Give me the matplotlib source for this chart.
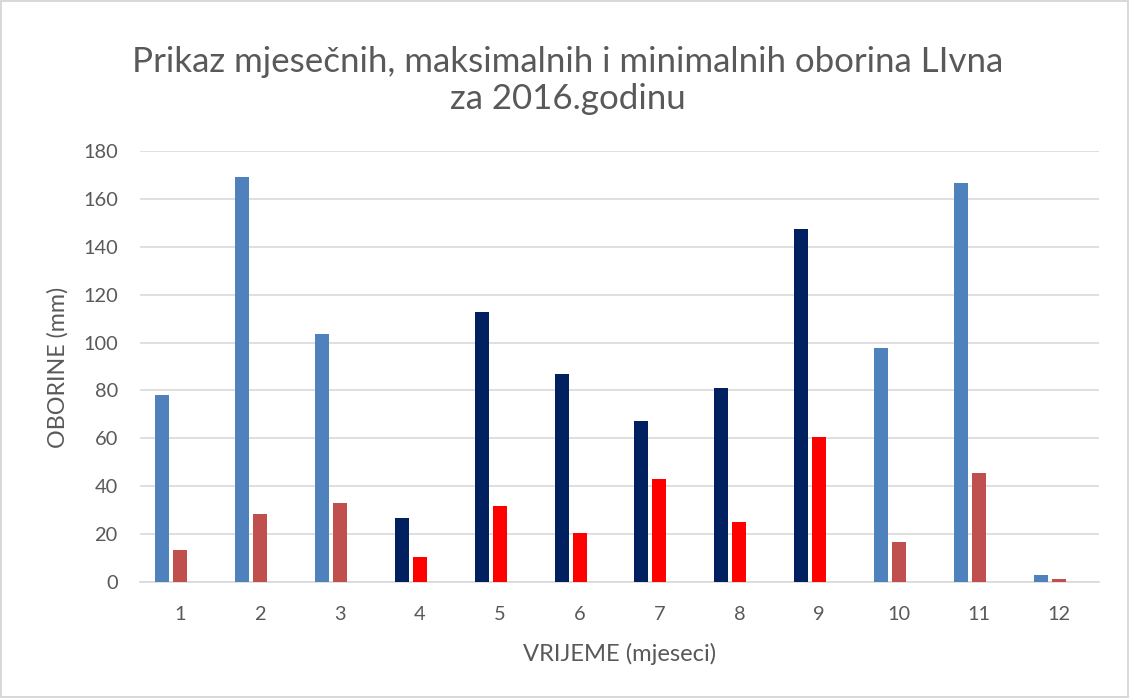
import matplotlib
matplotlib.use("Agg")
import matplotlib.pyplot as plt
import numpy as np

months = ["1", "2", "3", "4", "5", "6", "7", "8", "9", "10", "11", "12"]
max_vals = [78.3, 169.3, 103.5, 26.9, 112.7, 86.7, 67.1, 81.0, 147.4, 97.6, 166.5, 2.8]
min_vals = [13.4, 28.2, 33.2, 10.3, 31.6, 20.6, 43.2, 25.2, 60.5, 16.9, 45.4, 1.4]
max_colors = ["#4F81BD"] * 3 + ["#002060"] * 6 + ["#4F81BD"] * 3
min_colors = ["#C0504D"] * 3 + ["#FF0000"] * 6 + ["#C0504D"] * 3
yticks = [0, 20, 40, 60, 80, 100, 120, 140, 160, 180]

title_lines = ["Prikaz mjesečnih, maksimalnih i minimalnih oborina LIvna", "za 2016.godinu"]
xlabel = "VRIJEME (mjeseci)"
ylabel = "OBORINE (mm)"

plt.rcParams['font.family'] = ['Lato', 'DejaVu Sans']
txt = "#595959"
W, H = 1129, 698

fig = plt.figure(figsize=(W / 100, H / 100), dpi=100)
fig.patch.set_edgecolor("#D9D9D9")
fig.patch.set_linewidth(1.5)
ax = fig.add_axes([140 / W, 1 - 582 / H, 959 / W, 431 / H])

x = np.arange(1, len(months) + 1)
w = 0.175
ax.bar(x - 0.225, max_vals, width=w, color=max_colors, zorder=3)
ax.bar(x, min_vals, width=w, color=min_colors, zorder=3)

ax.set_xlim(0.5, 12.5)
ax.set_ylim(0, 180)
ax.set_yticks(yticks)
ax.set_xticks(x)
ax.set_xticklabels(months)
ax.yaxis.grid(True, color="#D9D9D9", linewidth=1.2, zorder=0)
for s in ["top", "right", "left"]:
    ax.spines[s].set_visible(False)
ax.spines["bottom"].set_color("#D9D9D9")
ax.spines["bottom"].set_linewidth(1.2)
ax.tick_params(axis="both", length=0, labelsize=13.5, colors=txt)
ax.tick_params(axis="x", pad=17)
ax.tick_params(axis="y", pad=16)

renderer = fig.canvas.get_renderer()


def fit(t, target, dim="w"):
    bb = t.get_window_extent(renderer)
    cur = bb.width if dim == "w" else bb.height
    t.set_fontsize(t.get_fontsize() * target / cur)


# tick label size: "180" about 35 px wide
probe = fig.text(0, 0, "180", fontsize=13.5)
bb = probe.get_window_extent(renderer)
tsize = 13.5 * 35 / bb.width
probe.remove()
ax.tick_params(axis="both", labelsize=tsize)

t1 = fig.text(568 / W, 1 - 62 / H, title_lines[0], ha="center", va="center",
              fontsize=24, color=txt)
fit(t1, 870)
t2 = fig.text(568 / W, 1 - 99 / H, title_lines[1], ha="center", va="center",
              fontsize=t1.get_fontsize(), color=txt)

xl = fig.text(619.5 / W, 1 - 654 / H, xlabel, ha="center", va="center",
              fontsize=16, color=txt)
fit(xl, 194)
yl = fig.text(58 / W, 1 - 367 / H, ylabel, ha="center", va="center",
              rotation=90, fontsize=16, color=txt)
fit(yl, 161, "h")

fig.savefig("out.png", dpi=100)
